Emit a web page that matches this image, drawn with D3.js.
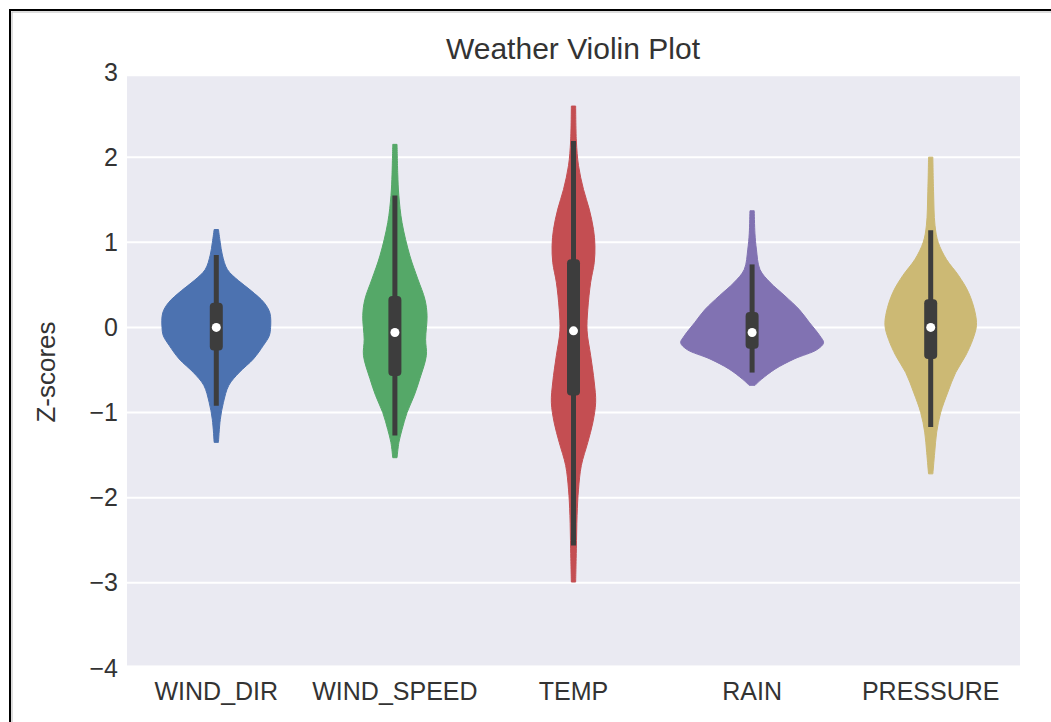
<!DOCTYPE html>
<html>
<head>
  <meta charset="utf-8">
  <title>Weather Violin Plot</title>
  <script src="https://cdnjs.cloudflare.com/ajax/libs/d3/7.8.5/d3.min.js"></script>
  <style>
    body { margin: 0; background: #fff; }
    text { font-family: "Liberation Sans", Arial, sans-serif; fill: #333; }
  </style>
</head>
<body>
<div id="chart"></div>
<script>

var categories = ['WIND_DIR', 'WIND_SPEED', 'TEMP', 'RAIN', 'PRESSURE'];
var yTicks = [-4, -3, -2, -1, 0, 1, 2, 3];

// box / whisker stats
var medians  = [0.0, -0.06, -0.04, -0.06, 0.0];
var q1       = [-0.27, -0.57, -0.8, -0.25, -0.37];
var q3       = [0.29, 0.37, 0.8, 0.18, 0.33];
var whiskLo  = [-0.92, -1.27, -2.56, -0.53, -1.17];
var whiskHi  = [0.85, 1.55, 2.19, 0.74, 1.14];

// kde profiles: [z, relative density] (1 = widest violin)
var windDirKde = [[1.15,0.03],[1.0,0.055],[0.85,0.085],[0.68,0.155],[0.55,0.31],[0.43,0.49],
  [0.29,0.67],[0.17,0.75],[0.0,0.76],[-0.1,0.74],[-0.21,0.66],[-0.37,0.52],[-0.53,0.32],
  [-0.68,0.175],[-0.88,0.1],[-1.08,0.056],[-1.35,0.03]];
var windSpeedKde = [[2.15,0.03],[1.8,0.04],[1.55,0.055],[1.23,0.1],[0.84,0.21],[0.57,0.32],
  [0.33,0.42],[0.14,0.45],[-0.14,0.43],[-0.33,0.44],[-0.6,0.35],[-0.8,0.27],[-1.0,0.17],
  [-1.2,0.1],[-1.35,0.056],[-1.53,0.03]];
var tempKde = [[2.6,0.03],[2.19,0.04],[1.9,0.07],[1.62,0.14],[1.39,0.22],[1.15,0.28],[0.96,0.3],
  [0.76,0.29],[0.53,0.24],[0.21,0.2],[-0.04,0.19],[-0.33,0.24],[-0.64,0.29],[-0.88,0.31],
  [-1.12,0.27],[-1.35,0.2],[-1.62,0.11],[-1.9,0.07],[-2.21,0.05],[-2.6,0.04],[-2.99,0.03]];
var rainKde = [[1.37,0.03],[1.1,0.04],[0.92,0.06],[0.68,0.11],[0.53,0.25],[0.37,0.46],[0.21,0.66],
  [0.06,0.8],[-0.1,0.95],[-0.18,1.0],[-0.26,0.91],[-0.37,0.59],[-0.49,0.32],[-0.61,0.13],[-0.68,0.04]];
var pressureKde = [[2.0,0.03],[1.6,0.04],[1.2,0.06],[1.0,0.105],[0.8,0.22],[0.61,0.39],[0.41,0.53],
  [0.18,0.62],[0.02,0.64],[-0.14,0.59],[-0.33,0.49],[-0.53,0.35],[-0.76,0.24],[-1.0,0.14],
  [-1.23,0.084],[-1.47,0.056],[-1.72,0.03]];
var profiles = [windDirKde, windSpeedKde, tempKde, rainKde, pressureKde];

var colors = ['#4C72B0', '#55A868', '#C44E52', '#8172B2', '#CCB974'];

var W = 1051, H = 722;
var svg = d3.select('#chart').append('svg')
  .attr('width', W).attr('height', H);

var x = d3.scaleBand().domain(categories).range([127, 1020]);
var y = d3.scaleLinear().domain([-4, 3]).range([668, 72]);
var w = d3.scaleLinear().domain([0, 1]).range([0, x.bandwidth() * 0.4]);

// frame around the picture
svg.append('rect')
  .attr('x', 10).attr('y', 10).attr('width', W).attr('height', H)
  .attr('fill', 'none').attr('stroke', '#000').attr('stroke-width', 2);
svg.append('rect')
  .attr('x', 12).attr('y', 12).attr('width', W).attr('height', H)
  .attr('fill', 'none').attr('stroke', '#bbb').attr('stroke-width', 1);

// plot background
svg.append('rect')
  .attr('x', 127).attr('y', y(2.95))
  .attr('width', 1020 - 127).attr('height', y(-3.97) - y(2.95))
  .attr('fill', '#EAEAF2');

// grid lines
svg.append('g').selectAll('line')
  .data(yTicks.filter(function(t) { return t > -4 && t < 3; }))
  .enter().append('line')
  .attr('x1', 127).attr('x2', 1020)
  .attr('y1', function(d) { return y(d); })
  .attr('y2', function(d) { return y(d); })
  .attr('stroke', '#fff').attr('stroke-width', 2);

// y axis labels
var yAxis = svg.append('g')
  .attr('transform', 'translate(127,0)')
  .call(d3.axisLeft(y).tickValues(yTicks).tickFormat(d3.format('d')).tickSize(0).tickPadding(9));
yAxis.select('.domain').remove();
yAxis.selectAll('text').style('font-size', '25px').attr('fill', '#333')
  .style('font-family', '"Liberation Sans", Arial, sans-serif');

// x axis labels
var xAxis = svg.append('g')
  .attr('transform', 'translate(0,668)')
  .call(d3.axisBottom(x).tickSize(0).tickPadding(14));
xAxis.select('.domain').remove();
xAxis.selectAll('text').style('font-size', '25px').attr('fill', '#333')
  .style('font-family', '"Liberation Sans", Arial, sans-serif');

// violins
var area = d3.area()
  .curve(d3.curveCatmullRom)
  .y(function(d) { return y(d[0]); });

var violins = svg.append('g').selectAll('g')
  .data(categories)
  .enter().append('g');

violins.each(function(cat, i) {
  var g = d3.select(this);
  var cx = x(cat) + x.bandwidth() / 2;
  area.x0(function(d) { return cx - w(d[1]); })
      .x1(function(d) { return cx + w(d[1]); });
  g.append('path')
    .attr('d', area(profiles[i]))
    .attr('fill', colors[i])
    .attr('stroke', colors[i])
    .attr('stroke-width', 1);
  // whisker
  g.append('line')
    .attr('x1', cx).attr('x2', cx)
    .attr('y1', y(whiskHi[i])).attr('y2', y(whiskLo[i]))
    .attr('stroke', '#3d3d3d').attr('stroke-width', 5);
  // box
  g.append('rect')
    .attr('x', cx - 6.5).attr('width', 13)
    .attr('y', y(q3[i])).attr('height', y(q1[i]) - y(q3[i]))
    .attr('rx', 4)
    .attr('fill', '#3d3d3d');
  // median
  g.append('circle')
    .attr('cx', cx).attr('cy', y(medians[i]))
    .attr('r', 4.5).attr('fill', '#fff');
});

// title
svg.append('text')
  .attr('x', 573).attr('y', 59)
  .attr('text-anchor', 'middle')
  .style('font-size', '30px')
  .text('Weather Violin Plot');

// y label
svg.append('text')
  .attr('transform', 'translate(55,372) rotate(-90)')
  .attr('text-anchor', 'middle')
  .style('font-size', '26px')
  .text('Z-scores');

</script>
</body>
</html>
